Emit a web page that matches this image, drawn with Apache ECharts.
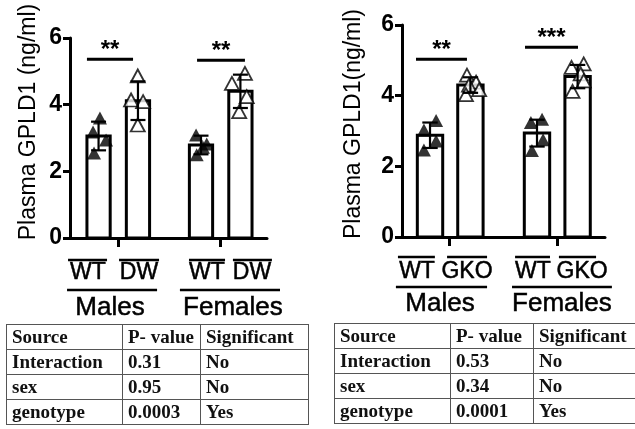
<!DOCTYPE html>
<html><head><meta charset="utf-8">
<script src="https://cdn.jsdelivr.net/npm/echarts@6/dist/echarts.min.js"></script>
<style>
html,body{margin:0;padding:0;background:#fff;}
#c{position:absolute;left:0;top:0;width:635px;height:429px;}
table.t{position:absolute;border-collapse:collapse;font-family:"Liberation Serif","Times New Roman",serif;font-weight:bold;font-size:19px;color:#111;table-layout:fixed;}
table.t td{border:1px solid #555;padding:0 0 0 5px;height:24px;line-height:20px;white-space:nowrap;overflow:hidden;}
</style></head>
<body>
<div id="c"></div>
<table class="t" id="t1" style="left:6px;top:324px;width:302px;"></table>
<table class="t" id="t2" style="left:334px;top:323px;width:305px;"></table>
<script>
// ---------- data ----------
var yTicks = [0, 2, 4, 6];
// Left panel (DW)
var L_barX = [1.45, 3.45, 6.65, 8.65];
var L_means = [3.06, 4.12, 2.79, 4.40];
var L_sd = [0.43, 0.58, 0.28, 0.50];
var L_wtM = [[1.52, 3.60], [1.17, 3.18], [1.83, 2.94], [1.22, 2.55]];
var L_mutM = [[3.44, 4.86], [3.10, 4.14], [3.71, 4.09], [3.44, 3.39]];
var L_wtF = [[6.40, 3.09], [6.94, 2.82], [6.75, 2.72], [6.43, 2.50]];
var L_mutF = [[8.88, 4.94], [8.22, 4.64], [8.97, 4.24], [8.59, 3.79]];
var L_sig = [[0.86, 3.20, 5.36, '**'], [6.45, 8.88, 5.33, '**']];
var L_subLabels = [[-0.1, 1.88, 0.91, 'WT'], [2.49, 4.52, 3.50, 'DW'], [6.04, 7.87, 6.95, 'WT'], [8.27, 10.25, 9.24, 'DW']];
var L_groupLabels = [[-0.15, 4.42, 2.03, 'Males'], [5.58, 10.66, 8.27, 'Females']];
var L_groupTicks = [2.45, 7.65];
// Right panel (GKO)
var R_barX = [1.38, 3.37, 6.65, 8.65];
var R_means = [2.88, 4.30, 2.94, 4.54];
var R_sd = [0.36, 0.22, 0.38, 0.33];
var R_wtM = [[1.68, 3.30], [1.08, 3.03], [1.68, 2.72], [1.08, 2.46]];
var R_mutM = [[3.20, 4.58], [3.65, 4.38], [3.30, 4.30], [3.80, 4.17], [3.15, 4.03]];
var R_wtF = [[6.90, 3.33], [6.35, 3.24], [6.95, 2.75], [6.40, 2.45]];
var R_mutF = [[8.95, 4.90], [8.35, 4.80], [8.80, 4.62], [8.95, 4.42], [8.40, 4.12]];
var R_sig = [[0.69, 3.20, 5.03, '**'], [6.06, 8.67, 5.37, '***']];
var R_subLabels = [[-0.2, 1.62, 0.74, 'WT'], [2.22, 4.19, 3.20, 'GKO'], [5.57, 7.29, 6.45, 'WT'], [7.73, 9.56, 8.87, 'GKO']];
var R_groupLabels = [[-0.3, 4.19, 1.87, 'Males'], [5.42, 10.34, 7.88, 'Females']];
var R_groupTicks = [2.32, 7.64];
// Tables
var tableHeader = ['Source', 'P- value', 'Significant'];
var tableSources = ['Interaction', 'sex', 'genotype'];
var L_pvalues = ['0.31', '0.95', '0.0003'];
var L_signif = ['No', 'No', 'Yes'];
var R_pvalues = ['0.53', '0.34', '0.0001'];
var R_signif = ['No', 'No', 'Yes'];

// ---------- tables ----------
function fillTable(id, pv, sg, widths) {
  var t = document.getElementById(id);
  var rows = [tableHeader];
  for (var i = 0; i < tableSources.length; i++) rows.push([tableSources[i], pv[i], sg[i]]);
  var h = '<colgroup>' + widths.map(function (w) { return '<col style="width:' + w + 'px">'; }).join('') + '</colgroup>';
  rows.forEach(function (r) {
    h += '<tr>' + r.map(function (c) { return '<td>' + c + '</td>'; }).join('') + '</tr>';
  });
  t.innerHTML = h;
}
fillTable('t1', L_pvalues, L_signif, [116, 78, 108]);
fillTable('t2', R_pvalues, R_signif, [116, 83, 106]);

// ---------- chart ----------
var FONT = '"Liberation Sans", Arial, sans-serif';
var chart = echarts.init(document.getElementById('c'), null, {renderer: 'canvas'});

function barSeries(idx, xs, means, w) {
  return {
    type: 'custom', xAxisIndex: idx, yAxisIndex: idx, z: 2,
    data: xs.map(function (x, i) { return [x, means[i]]; }),
    renderItem: function (params, api) {
      var x = api.value(0), v = api.value(1);
      var p1 = api.coord([x - w / 2, v]);
      var p2 = api.coord([x + w / 2, 0]);
      return {type: 'rect', shape: {x: p1[0], y: p1[1], width: p2[0] - p1[0], height: p2[1] - p1[1]},
        style: {fill: '#fff', stroke: '#000', lineWidth: 3}};
    }
  };
}
function errSeries(idx, xs, means, sd) {
  return {
    type: 'custom', xAxisIndex: idx, yAxisIndex: idx, z: 5,
    data: xs.map(function (x, i) { return [x, means[i], sd[i]]; }),
    renderItem: function (params, api) {
      var x = api.value(0), m = api.value(1), s = api.value(2);
      var top = api.coord([x, m + s]), bot = api.coord([x, m - s]);
      var cw = 0.38;
      var tl = api.coord([x - cw, m + s]), tr = api.coord([x + cw, m + s]);
      var bl = api.coord([x - cw, m - s]), br = api.coord([x + cw, m - s]);
      var st = {stroke: '#000', lineWidth: 2.2};
      return {type: 'group', children: [
        {type: 'line', shape: {x1: top[0], y1: top[1], x2: bot[0], y2: bot[1]}, style: st},
        {type: 'line', shape: {x1: tl[0], y1: tl[1], x2: tr[0], y2: tr[1]}, style: st},
        {type: 'line', shape: {x1: bl[0], y1: bl[1], x2: br[0], y2: br[1]}, style: st}
      ]};
    }
  };
}
function ptSeries(idx, data, filled) {
  return {
    type: 'scatter', xAxisIndex: idx, yAxisIndex: idx, z: 4, data: data,
    symbol: 'triangle', symbolSize: [14, 13],
    itemStyle: filled ? {color: '#000'} : {color: '#fff', borderColor: '#000', borderWidth: 1.8},
    silent: true
  };
}
function sigSeries(idx, data) {
  return {
    type: 'custom', xAxisIndex: idx, yAxisIndex: idx, z: 6, data: data,
    renderItem: function (params, api) {
      var a = api.coord([api.value(0), api.value(2)]);
      var b = api.coord([api.value(1), api.value(2)]);
      var txt = data[params.dataIndex][3];
      return {type: 'group', children: [
        {type: 'line', shape: {x1: a[0], y1: a[1], x2: b[0], y2: b[1]}, style: {stroke: '#000', lineWidth: 3}},
        {type: 'text', x: (a[0] + b[0]) / 2, y: a[1] - 9,
          style: {text: txt, fill: '#000', font: 'bold 24px ' + FONT, align: 'center', verticalAlign: 'middle'}}
      ]};
    }
  };
}
function labelSeries(idx, data, lineOff, textOff, fontSize) {
  return {
    type: 'custom', xAxisIndex: idx, yAxisIndex: idx, z: 6, data: data, clip: false,
    renderItem: function (params, api) {
      var a = api.coord([api.value(0), 0]);
      var b = api.coord([api.value(1), 0]);
      var c = api.coord([api.value(2), 0]);
      var txt = data[params.dataIndex][3];
      return {type: 'group', children: [
        {type: 'line', shape: {x1: a[0], y1: a[1] + lineOff, x2: b[0], y2: b[1] + lineOff}, style: {stroke: '#000', lineWidth: 2.5}},
        {type: 'text', x: c[0], y: c[1] + textOff,
          style: {text: txt, fill: '#000', font: fontSize + 'px ' + FONT, align: 'center', verticalAlign: 'middle',
            stroke: '#000', lineWidth: 0.5}}
      ]};
    }
  };
}
function xAx(idx, ticks) {
  return {
    type: 'value', gridIndex: idx, min: 0, max: 10,
    axisLine: {show: true, onZero: false, lineStyle: {color: '#000', width: 3}},
    axisTick: {show: true, customValues: ticks, length: 9, lineStyle: {color: '#000', width: 3}},
    axisLabel: {show: false}, splitLine: {show: false}
  };
}
function yAx(idx, name, gap, shift) {
  return {
    type: 'value', gridIndex: idx, min: 0, max: 6, interval: 2,
    name: name, nameLocation: 'middle', nameGap: gap,
    nameTextStyle: {fontFamily: FONT, fontSize: 23, color: '#000', padding: [0, 0, 0, shift]},
    axisLine: {show: true, lineStyle: {color: '#000', width: 3}},
    axisTick: {show: true, length: 7, lineStyle: {color: '#000', width: 3}},
    axisLabel: {color: '#000', fontFamily: FONT, fontWeight: 'bold', fontSize: 23, margin: 8,
      customValues: yTicks},
    splitLine: {show: false}
  };
}
var option = {
  animation: false,
  backgroundColor: '#fff',
  grid: [
    {left: 70, top: 38, width: 197, height: 200},
    {left: 402, top: 25, width: 203, height: 212}
  ],
  xAxis: [xAx(0, L_groupTicks), xAx(1, R_groupTicks)],
  yAxis: [yAx(0, 'Plasma GPLD1 (ng/ml)', 30, 32), yAx(1, 'Plasma GPLD1(ng/ml)', 37, 14)],
  series: [
    barSeries(0, L_barX, L_means, 1.18),
    ptSeries(0, L_wtM, true), ptSeries(0, L_mutM, false), ptSeries(0, L_wtF, true), ptSeries(0, L_mutF, false),
    errSeries(0, L_barX, L_means, L_sd),
    sigSeries(0, L_sig),
    labelSeries(0, L_subLabels, 22, 35, 23),
    labelSeries(0, L_groupLabels, 52, 70, 26),
    barSeries(1, R_barX, R_means, 1.25),
    ptSeries(1, R_wtM, true), ptSeries(1, R_mutM, false), ptSeries(1, R_wtF, true), ptSeries(1, R_mutF, false),
    errSeries(1, R_barX, R_means, R_sd),
    sigSeries(1, R_sig),
    labelSeries(1, R_subLabels, 20, 35, 23),
    labelSeries(1, R_groupLabels, 50, 67, 26)
  ]
};
chart.setOption(option);
</script>
</body></html>
